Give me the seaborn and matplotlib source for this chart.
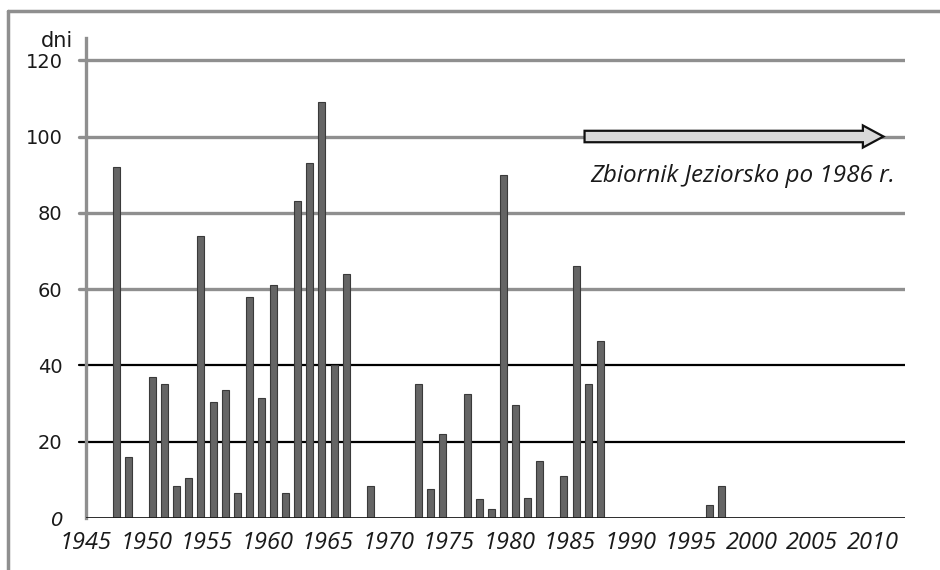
import matplotlib
matplotlib.use("Agg")
import matplotlib.pyplot as plt
import matplotlib.patches as mpatches
from matplotlib.lines import Line2D
import seaborn as sns
import pandas as pd

# days per year
years = [1947, 1948, 1950, 1951, 1952, 1953, 1954, 1955, 1956, 1957, 1958, 1959,
         1960, 1961, 1962, 1963, 1964, 1965, 1966, 1968, 1972, 1973, 1974, 1976,
         1977, 1978, 1979, 1980, 1981, 1982, 1984, 1985, 1986, 1987, 1996, 1997]
days = [92, 16, 37, 35, 8.5, 10.5, 74, 30.5, 33.5, 6.5, 58, 31.5,
        61, 6.5, 83, 93, 109, 40, 64, 8.5, 35, 7.5, 22, 32.5,
        5, 2.3, 90, 29.5, 5.3, 15, 11, 66, 35, 46.5, 3.3, 8.5]
y_ticks = [0, 20, 40, 60, 80, 100, 120]
x_ticks = list(range(1945, 2011, 5))
note = "Zbiornik Jeziorsko po 1986 r."

df = pd.DataFrame({"year": years, "days": days})

sns.set_style("white")
fig = plt.figure(figsize=(9.4, 5.7), dpi=100)
ax = fig.add_axes([0.0915, 0.0912, 0.8715, 0.842])

# grid lines: upper ones gray, lower ones black
for v in y_ticks[1:]:
    col = "#000000" if v <= 40 else "#8f8f8f"
    lw = 1.6 if v <= 40 else 2.4
    ax.axhline(v, color=col, lw=lw, zorder=0)
    ax.plot([-0.009, 0], [v, v], transform=ax.get_yaxis_transform(),
            color=col, lw=lw, clip_on=False, zorder=0)

# bars centred inside each year slot
df["pos"] = df["year"] + 0.5
sns.barplot(data=df, x="pos", y="days", native_scale=True, width=0.58,
            color="#656565", saturation=1, edgecolor="#3a3a3a", linewidth=0.8,
            ax=ax, zorder=3)

ax.axhline(0, color="#1a1a1a", lw=2, zorder=4)

ax.set_xlim(1945, 2012.7)
ax.set_ylim(0, 125.8)
ax.set_xlabel("")
ax.set_ylabel("")
for s in ["top", "right", "bottom"]:
    ax.spines[s].set_visible(False)
ax.spines["left"].set_color("#8f8f8f")
ax.spines["left"].set_linewidth(2.4)

ax.set_yticks(y_ticks)
ax.set_yticklabels([str(v) for v in y_ticks], fontsize=14,
                   fontfamily="DejaVu Sans", color="#1a1a1a")
ax.get_yticklabels()[0].set_style("italic")
ax.tick_params(axis="y", length=0, pad=17)

ax.set_xticks(x_ticks)
ax.set_xticklabels([str(v) for v in x_ticks], fontsize=17, style="italic",
                   fontfamily=["Open Sans", "DejaVu Sans"],
                   color="#1a1a1a")
ax.tick_params(axis="x", length=5, width=2, color="#8f8f8f", pad=4, direction="out")

ax.text(-0.035, 125, "dni", transform=ax.get_yaxis_transform(), fontsize=15,
        ha="center", va="center", color="#1a1a1a")

# Jeziorsko reservoir arrow
arrow = mpatches.FancyArrow(1986.2, 100, 24.7, 0, width=3.0, head_width=5.8,
                            head_length=1.7, length_includes_head=True,
                            facecolor="#d9d9d9", edgecolor="#111111", lw=1.6,
                            zorder=6)
ax.add_patch(arrow)
ax.text(2011.9, 88, note, fontsize=17.5, style="italic", ha="right", va="baseline",
        fontfamily=["Open Sans", "DejaVu Sans"], color="#1a1a1a", zorder=6)

# outer frame (left and top edge)
fig.add_artist(Line2D([0.009, 0.009], [0.0, 0.981], color="#8f8f8f", lw=2.5))
fig.add_artist(Line2D([0.009, 1.0], [0.981, 0.981], color="#8f8f8f", lw=2.5))

fig.savefig("out.png", dpi=100, facecolor="white")
